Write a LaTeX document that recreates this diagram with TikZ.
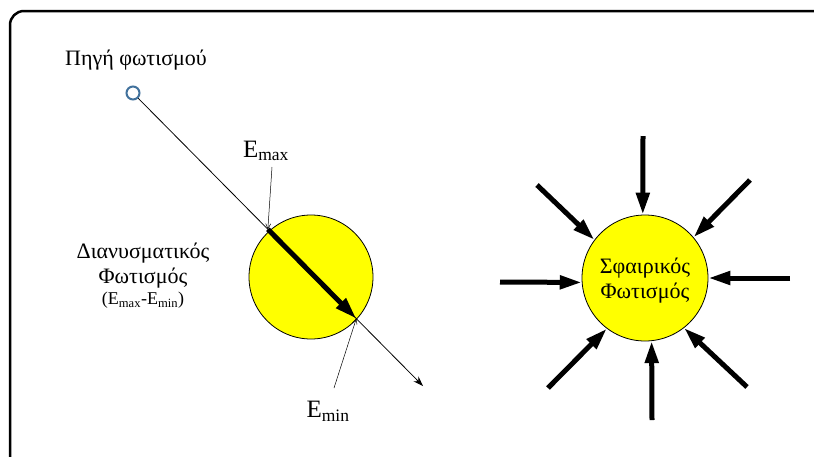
\documentclass[tikz,border=0pt]{standalone}
\usepackage{fontspec}
\setmainfont{Liberation Serif}
\usetikzlibrary{arrows.meta,calc}
\definecolor{srcblue}{HTML}{41719C}
\definecolor{ballyellow}{HTML}{FFFF00}
\begin{document}
\begin{tikzpicture}[x=1pt,y=-1pt,
  ray/.style={line width=0.8pt,-{Stealth[length=10pt,width=7pt]}},
  pointer/.style={line width=0.5pt,-{Straight Barb[length=5pt,width=5pt]}},
  bigarrow/.style={line width=5pt,-{Triangle[length=22pt,width=13pt]}},
  ball/.style={circle,draw,fill=ballyellow,line width=0.8pt,inner sep=0pt},
  txt/.style={font=\fontsize{22}{25}\selectfont,align=center},
  elabel/.style={font=\fontsize{25}{28}\selectfont,inner sep=0pt}
]
\useasboundingbox (0,0) rectangle (814,456);
\draw[line width=2.5pt,rounded corners=14pt] (10,11) rectangle (950,560);

% left part: vector illumination
\node[txt] (srclabel) at (136,60) {Πηγή φωτισμού};
\node[ball,minimum size=124pt] (b1) at (311,277) {};
\node[circle,draw=srcblue,line width=2pt,minimum size=13pt,inner sep=0pt] (src) at (133,93) {};
\coordinate (rayend) at (423,386);
\draw[ray] (src) -- (rayend);
\coordinate (entry) at ($(src)!0.465!(rayend)$);
\coordinate (exit) at ($(src)!0.77!(rayend)$);
\draw[bigarrow] (entry) -- (exit);
\node[elabel] (emax) at (266,151) {E\textsubscript{max}};
\node[elabel] (emin) at (328,411) {E\textsubscript{min}};
\coordinate (emaxfoot) at (272,167);
\coordinate (eminfoot) at (334,388);
\draw[pointer] (emaxfoot) -- (entry);
\draw[pointer] (eminfoot) -- (exit);
\node[txt] (vec) at (143,276) {Διανυσματικός\\Φωτισμός\\[-4pt]{\fontsize{18}{21}\selectfont(E\textsubscript{max}-E\textsubscript{min})}};

% right part: spherical illumination
\node[ball,minimum size=126pt] (b2) at (645,278) {};
\node[txt] (sph) at (645,281) {Σφαιρικός\\Φωτισμός};
\coordinate (t1) at (643,136);
\coordinate (t2) at (750,180);
\coordinate (t3) at (790,278);
\coordinate (t4) at (747,387);
\coordinate (t5) at (652,420);
\coordinate (t6) at (548,388);
\coordinate (t7) at (500,282);
\coordinate (t8) at (537,185);
\draw[bigarrow] (t1) -- (b2.92);
\draw[bigarrow] (t2) -- (b2.40);
\draw[bigarrow] (t3) -- (b2.0);
\draw[bigarrow] (t4) -- (b2.-52);
\draw[bigarrow] (t5) -- (b2.-84);
\draw[bigarrow] (t6) -- (b2.-127);
\draw[bigarrow] (t7) -- (b2.184);
\draw[bigarrow] (t8) -- (b2.143);
\end{tikzpicture}
\end{document}
